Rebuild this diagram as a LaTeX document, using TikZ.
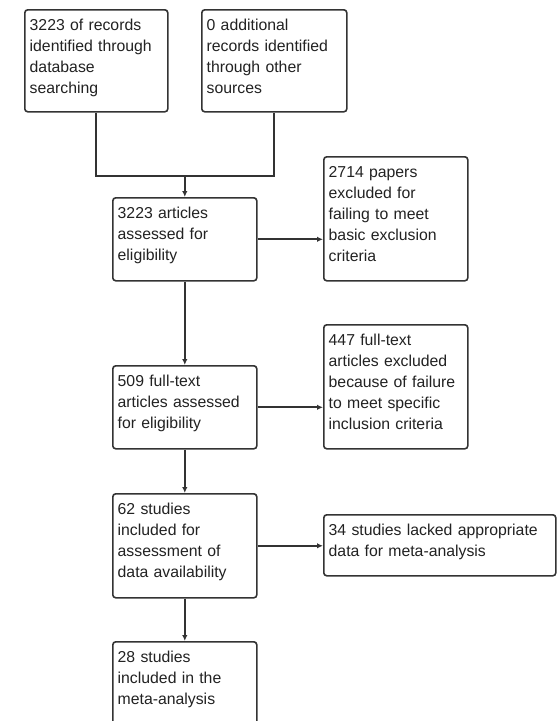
\documentclass[tikz,border=0pt]{standalone}
\usepackage{fontspec}
\setmainfont{Liberation Sans}
\usetikzlibrary{arrows.meta,calc}
\definecolor{lncol}{HTML}{333333}
\definecolor{tx}{HTML}{222222}
\begin{document}
\begin{tikzpicture}[x=1pt,y=-1pt,
  box/.style={draw=lncol,line width=1.6pt,rounded corners=3pt},
  txt/.style={anchor=base west,inner sep=0pt,text width=150pt,align=left,text=tx,
    font=\fontsize{15.8}{20.9}\selectfont},
  arr/.style={draw=lncol,line width=1.7pt,-{Latex[length=6pt,width=5.5pt]}},
  conn/.style={draw=lncol,line width=1.7pt}]
\useasboundingbox (0,0) rectangle (557,721);
\clip (0,0) rectangle (557,721);
\fill[white] (0,0) rectangle (557,721);
% boxes
\node[box,minimum width=143pt,minimum height=102pt,anchor=north west,inner sep=0pt] (A) at (24,9) {};
\node[box,minimum width=145pt,minimum height=102pt,anchor=north west,inner sep=0pt] (B) at (201,9) {};
\node[box,minimum width=144pt,minimum height=83pt,anchor=north west,inner sep=0pt] (C) at (112,197) {};
\node[box,minimum width=144pt,minimum height=124pt,anchor=north west,inner sep=0pt] (D) at (323,156) {};
\node[box,minimum width=144pt,minimum height=83pt,anchor=north west,inner sep=0pt] (E) at (112,365) {};
\node[box,minimum width=144pt,minimum height=124pt,anchor=north west,inner sep=0pt] (F) at (323,324) {};
\node[box,minimum width=144pt,minimum height=104pt,anchor=north west,inner sep=0pt] (G) at (112,493) {};
\node[box,minimum width=232pt,minimum height=61pt,anchor=north west,inner sep=0pt] (H) at (323,514) {};
\node[box,minimum width=144pt,minimum height=100pt,anchor=north west,inner sep=0pt] (I) at (112,641) {};
% texts
\node[txt] (ta) at ([shift={(5.5,21.8)}]A.north west) {3223 of records\\identified through\\database\\searching};
\node[txt] (tb) at ([shift={(5.5,21.8)}]B.north west) {0 additional\\records identified\\through other\\sources};
\node[txt] (tc) at ([shift={(5.5,21.8)}]C.north west) {3223 articles\\assessed for\\eligibility};
\node[txt] (td) at ([shift={(5.5,21.8)}]D.north west) {2714 papers\\excluded for\\failing to meet\\basic exclusion\\criteria};
\node[txt] (te) at ([shift={(5.5,21.8)}]E.north west) {509 full-text\\articles assessed\\for eligibility};
\node[txt] (tf) at ([shift={(5.5,21.8)}]F.north west) {447 full-text\\articles excluded\\because of failure\\to meet specific\\inclusion criteria};
\node[txt] (tg) at ([shift={(5.5,21.8)}]G.north west) {62 studies\\included for\\assessment of\\data availability};
\node[txt,text width=230pt] (th) at ([shift={(5.5,21.8)}]H.north west) {34 studies lacked appropriate\\data for meta-analysis};
\node[txt] (ti) at ([shift={(5.5,21.8)}]I.north west) {28 studies\\included in the\\meta-analysis};
% connectors
\coordinate (J) at (C.north |- 0,176);
\draw[conn] (A.south) |- (J) -| (B.south);
\draw[arr] (J) -- (C.north);
\draw[arr] (C.east) -- (C.east -| D.west);
\draw[arr] (C.south) -- (E.north);
\draw[arr] (E.east) -- (E.east -| F.west);
\draw[arr] (E.south) -- (G.north);
\draw[arr] (G.east) -- (G.east -| H.west);
\draw[arr] (G.south) -- (I.north);
\end{tikzpicture}
\end{document}
